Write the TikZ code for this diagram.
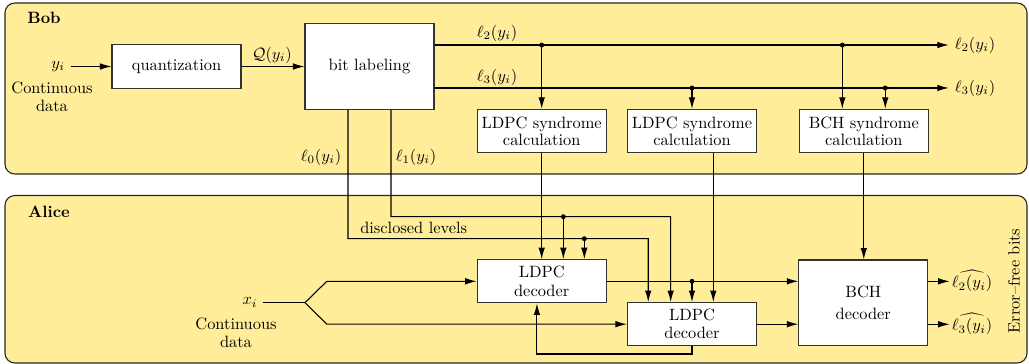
\documentclass[tikz,border=0pt]{standalone}
\usetikzlibrary{arrows.meta}
\definecolor{bgyellow}{RGB}{255,237,153}
\tikzset{
  blk/.style={draw=black!80, fill=white, minimum width=78.7pt, minimum height=26.4pt, inner sep=1pt, align=center},
  tallblk/.style={blk, minimum height=52.2pt},
  panel/.style={draw=black!85, fill=bgyellow, rounded corners=6pt},
}
\begin{document}
\begin{tikzpicture}[>={Latex[length=7pt,width=4pt]}, x=0.61pt, y=-0.61pt, line width=0.65pt]
  %\draw[ultra thin,gray!20] (0,0) grid[step=50] (1029,364);
  \useasboundingbox (0,0) rectangle (1029,364);
  \draw[panel] (5,3) rectangle (1027,174);
  \draw[panel] (5,195.5) rectangle (1027,363);
  \node[font=\bfseries] (boblab) at (44,18) {Bob};
  \node[font=\bfseries] (alicelab) at (49,212) {Alice};
  % Bob
  \node[blk] (quant) at (176.5,66.5) {quantization};
  \node[tallblk] (bitlab) at (369.5,66.5) {bit labeling};
  \node[blk] (syn1) at (541.7,131) {LDPC syndrome\\[-1.8pt]calculation};
  \node[blk] (syn2) at (692,131) {LDPC syndrome\\[-1.8pt]calculation};
  \node[blk] (bchsyn) at (863.8,131) {BCH syndrome\\[-1.8pt]calculation};
  \node (yi) at (58,66.5) {$y_i$};
  \node[align=center] (cdat1) at (52,97) {Continuous\\[-1pt]data};
  \node (l2out) at (975,45) {$\ell_2(y_i)$};
  \node (l3out) at (975,88) {$\ell_3(y_i)$};
  \node (qlab) at (272,55) {$\mathcal{Q}(y_i)$};
  \node (l2lab) at (497,33) {$\ell_2(y_i)$};
  \node (l3lab) at (497,77) {$\ell_3(y_i)$};
  \node (l0lab) at (321,157) {$\ell_0(y_i)$};
  \node (l1lab) at (416,157) {$\ell_1(y_i)$};
  % Alice
  \node[blk] (dec1) at (541.7,281.3) {LDPC\\[-1pt]decoder};
  \node[blk] (dec2) at (692,324.2) {LDPC\\[-1pt]decoder};
  \node[tallblk] (bchdec) at (863.3,302.8) {BCH\\[1.4pt]decoder};
  \node (xi) at (250,302.7) {$x_i$};
  \node[align=center] (cdat2) at (236,333) {Continuous\\[-1pt]data};
  \node[inner sep=1pt] (h2) at (972,281) {$\widehat{\ell_2(y_i)}$};
  \node[inner sep=1pt] (h3) at (972,324) {$\widehat{\ell_3(y_i)}$};
  \node[rotate=90, inner sep=1pt] (efb) at (1014,281) {Error--free bits};
  \node (disc) at (413.7,228) {disclosed levels};
  % route points
  \coordinate (l2a) at ([yshift=13.1pt]bitlab.east);
  \coordinate (l3a) at ([yshift=-13.1pt]bitlab.east);
  \coordinate (l0a) at ([xshift=-13.1pt]bitlab.south);
  \coordinate (l1a) at ([xshift=13.1pt]bitlab.south);
  \coordinate (l0b) at (348,238.7);
  \coordinate (l1b) at (391,216.7);
  \coordinate (split) at (305,302.7);
  \coordinate (fb) at (600,354);
  \coordinate (s1) at (syn1.north |- l2a);
  \coordinate (s2) at (syn2.north |- l3a);
  \coordinate (s3) at ([xshift=-13.1pt]bchsyn.north |- l2a);
  \coordinate (s4) at ([xshift=13.1pt]bchsyn.north |- l3a);
  \coordinate (d0) at ([xshift=26pt]dec1.north |- l0b);
  \coordinate (d1) at ([xshift=13.2pt]dec1.north |- l1b);
  \coordinate (d2) at (dec2.north |- dec1.east);
  \foreach \p in {s1,s2,s3,s4,d0,d1,d2} \fill (\p) circle (1.5pt);
  % connectors
  \draw[->] (yi.east) -- (quant.west);
  \draw[->] (quant) -- (bitlab);
  \draw[->] (l2a) -- (l2a -| l2out.west);
  \draw[->] (l3a) -- (l3a -| l3out.west);
  \draw[->] (s1) -- (syn1.north);
  \draw[->] (s2) -- (syn2.north);
  \draw[->] (s3) -- (s3 |- bchsyn.north);
  \draw[->] (s4) -- (s4 |- bchsyn.north);
  \draw[->] (syn1.south) -- (dec1.north);
  \draw[->] ([xshift=13pt]syn2.south) -- ([xshift=13pt]dec2.north);
  \draw[->] (bchsyn.south) -- (bchsyn.south |- bchdec.north);
  \draw[->] (l0a) -- (l0b) -| ([xshift=-26.7pt]dec2.north);
  \draw[->] (l1a) -- (l1b) -| ([xshift=-13pt]dec2.north);
  \draw[->] (d0) -- (d0 |- dec1.north);
  \draw[->] (d1) -- (d1 |- dec1.north);
  \draw (xi.east) -- (split);
  \draw[->] (split) -- ([xshift=13.3pt]split |- dec1.west) -- (dec1.west);
  \draw[->] (split) -- ([xshift=13.3pt]split |- dec2.west) -- (dec2.west);
  \draw[->] (dec1.east) -- (dec1.east -| bchdec.west);
  \draw[->] (d2) -- (dec2.north);
  \draw[->] (dec2.east) -- (dec2.east -| bchdec.west);
  \draw[->] (dec2.south) -- (dec2.south |- fb) -| ([xshift=-2.9pt]dec1.south);
  \draw[->] ([yshift=13.1pt]bchdec.east) -- ([yshift=13.1pt]bchdec.east -| h2.west);
  \draw[->] ([yshift=-13.1pt]bchdec.east) -- ([yshift=-13.1pt]bchdec.east -| h3.west);
\end{tikzpicture}
\end{document}
